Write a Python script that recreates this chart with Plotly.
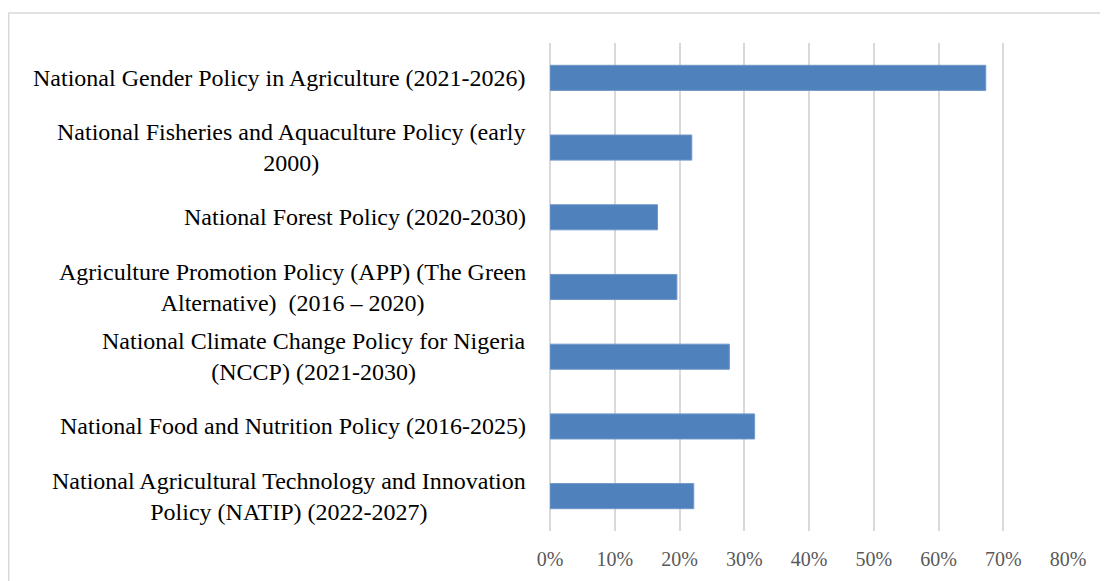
import plotly.graph_objects as go

categories = [
    "National Gender Policy in Agriculture (2021-2026)",
    "National Fisheries and Aquaculture Policy (early<br>2000)",
    "National Forest Policy (2020-2030)",
    "Agriculture Promotion Policy (APP) (The Green<br>Alternative)  (2016 – 2020)",
    "National Climate Change Policy for Nigeria<br>(NCCP) (2021-2030)",
    "National Food and Nutrition Policy (2016-2025)",
    "National Agricultural Technology and Innovation<br>Policy (NATIP) (2022-2027)",
]
values = [0.673, 0.219, 0.166, 0.196, 0.277, 0.316, 0.222]
tick_vals = [0, 0.1, 0.2, 0.3, 0.4, 0.5, 0.6, 0.7, 0.8]
tick_text = ["0%", "10%", "20%", "30%", "40%", "50%", "60%", "70%", "80%"]

FONT = "Liberation Serif, Times New Roman, serif"

fig = go.Figure()
fig.add_trace(go.Bar(
    x=values, y=categories, orientation="h",
    marker=dict(color="#4f81bd", line=dict(color="#7097c9", width=1)),
    hoverinfo="x+y",
))

annotations = []
for c in categories:
    annotations.append(dict(
        x=0, xref="paper", y=c, yref="y", text=c, showarrow=False,
        xanchor="right", yanchor="middle", align="center", xshift=-22,
        font=dict(family=FONT, size=24, color="#000000"),
    ))

# page has an 8px body margin; figure is sized/offset to compensate
fig.update_layout(
    width=1100, height=573,
    margin=dict(l=542, r=40, t=35, b=50),
    paper_bgcolor="white", plot_bgcolor="white",
    showlegend=False,
    bargap=0.64,
    annotations=annotations,
    shapes=[dict(type="rect", xref="paper", yref="paper",
                 x0=-1.045, x1=1.09, y0=-0.2, y1=1.0615,
                 line=dict(color="#d9d9d9", width=1.5), layer="below")],
    xaxis=dict(range=[0, 0.8], tickvals=tick_vals, ticktext=tick_text,
               showgrid=True, gridcolor="#d9d9d9", gridwidth=2,
               zeroline=True, zerolinecolor="#d9d9d9", zerolinewidth=2,
               showline=False,
               ticks="outside", ticklen=10, tickcolor="rgba(0,0,0,0)",
               tickfont=dict(family=FONT, size=20, color="#595959")),
    yaxis=dict(categoryorder="array", categoryarray=categories[::-1],
               showticklabels=False, showgrid=False, zeroline=False,
               showline=False),
)

fig.write_html("out.html")
